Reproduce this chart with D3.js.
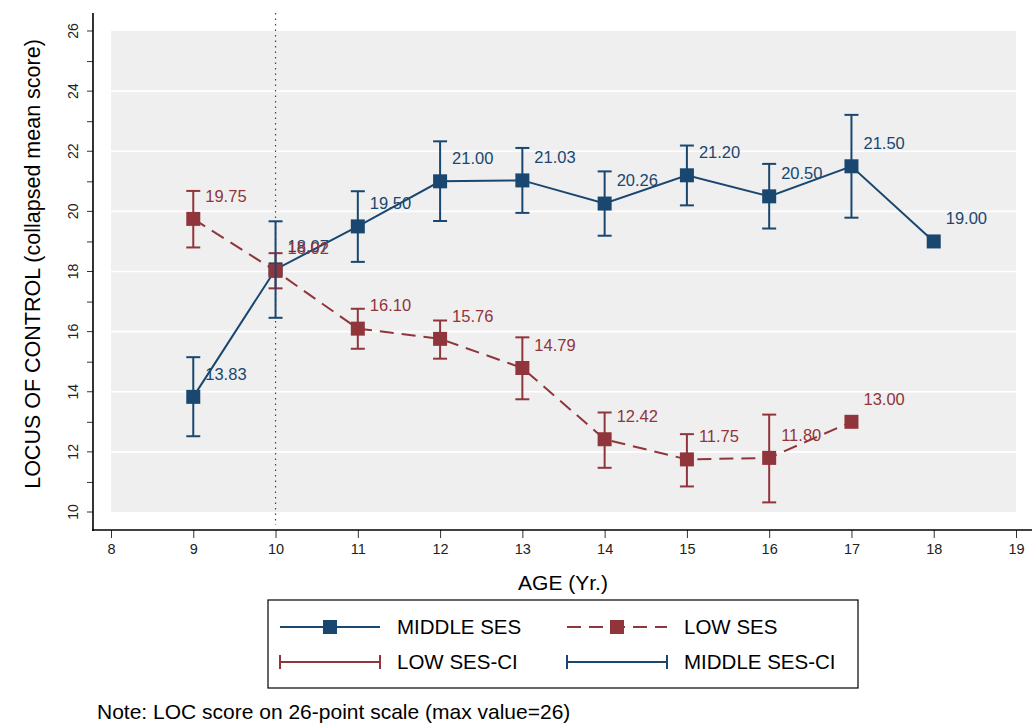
<!DOCTYPE html>
<html>
<head>
<meta charset="utf-8">
<script src="https://cdn.jsdelivr.net/npm/d3@7"></script>
<style>
  body { margin: 0; background: #fff; }
  svg { font-family: Arial, "Liberation Sans", sans-serif; }
</style>
</head>
<body>
<div id="chart"></div>
<script>
// chart values
var middleAges = [9, 10, 11, 12, 13, 14, 15, 16, 17, 18];
var middleSes = [13.83, 18.07, 19.50, 21.00, 21.03, 20.26, 21.20, 20.50, 21.50, 19.00];
var middleCiAges = [9, 10, 11, 12, 13, 14, 15, 16, 17];
var middleCiLow = [12.52, 16.46, 18.32, 19.68, 19.95, 19.19, 20.20, 19.43, 19.79];
var middleCiHigh = [15.15, 19.67, 20.67, 22.33, 22.11, 21.33, 22.19, 21.58, 23.21];

var lowAges = [9, 10, 11, 12, 13, 14, 15, 16, 17];
var lowSes = [19.75, 18.02, 16.10, 15.76, 14.79, 12.42, 11.75, 11.80, 13.00];
var lowCiAges = [9, 10, 11, 12, 13, 14, 15, 16];
var lowCiLow = [18.80, 17.44, 15.43, 15.10, 13.75, 11.47, 10.85, 10.32];
var lowCiHigh = [20.68, 18.61, 16.76, 16.37, 15.81, 13.31, 12.59, 13.24];

var xTicks = [8, 9, 10, 11, 12, 13, 14, 15, 16, 17, 18, 19];
var yTicks = [10, 12, 14, 16, 18, 20, 22, 24, 26];
var yMinorTicks = [11, 13, 15, 17, 19, 21, 23, 25];
var refAge = 10;

var blue = "#1a476f", red = "#90353b";

var svg = d3.select("#chart").append("svg")
    .attr("width", 1032).attr("height", 725);

var x = d3.scaleLinear().domain([8, 19]).range([111, 1016]);
var y = d3.scaleLinear().domain([10, 26]).range([512, 31]);

// plot region
svg.append("rect")
    .attr("x", x(8)).attr("y", y(26))
    .attr("width", x(19) - x(8)).attr("height", y(10) - y(26))
    .attr("fill", "#efefef");

// grid
svg.selectAll(".grid")
    .data(yTicks.filter(function (d) { return d > 10 && d < 26; }))
    .enter().append("line")
    .attr("x1", x(8)).attr("x2", x(19))
    .attr("y1", function (d) { return y(d); })
    .attr("y2", function (d) { return y(d); })
    .attr("stroke", "#fff").attr("stroke-width", 1.6);

// axes
var yAxis = svg.append("g")
    .attr("transform", "translate(93,0)")
    .call(d3.axisLeft(y).tickValues(yTicks).tickSize(6).tickPadding(12)
        .tickFormat(d3.format("d")));
yAxis.select(".domain").remove();
yAxis.selectAll("text")
    .attr("transform", function (d) { return "rotate(-90," + (-20) + "," + y(d) + ")"; })
    .attr("x", -20).attr("y", function (d) { return y(d); })
    .attr("dy", "0.35em")
    .attr("text-anchor", "middle")
    .style("font-size", "14px").style("fill", "#222");
yAxis.selectAll(".tick").attr("transform", null);
yAxis.selectAll(".tick line")
    .attr("y1", function (d) { return y(d); }).attr("y2", function (d) { return y(d); })
    .attr("stroke", "#333");

var yMinor = svg.append("g")
    .attr("transform", "translate(93,0)")
    .call(d3.axisLeft(y).tickValues(yMinorTicks).tickSize(6).tickFormat(""));
yMinor.select(".domain").remove();
yMinor.selectAll("line").attr("stroke", "#333");

svg.append("line")
    .attr("x1", 93).attr("x2", 93).attr("y1", 13).attr("y2", 531)
    .attr("stroke", "#000").attr("stroke-width", 1.6);

var xAxis = svg.append("g")
    .attr("transform", "translate(0,530)")
    .call(d3.axisBottom(x).tickValues(xTicks).tickSize(8).tickPadding(6)
        .tickFormat(d3.format("d")));
xAxis.select(".domain").remove();
xAxis.selectAll("text").style("font-size", "14.5px").style("fill", "#222");
xAxis.selectAll("line").attr("stroke", "#333");

svg.append("line")
    .attr("x1", 92).attr("x2", 1032).attr("y1", 530).attr("y2", 530)
    .attr("stroke", "#000").attr("stroke-width", 1.6);

// reference line at age 10
svg.append("line")
    .attr("x1", x(refAge)).attr("x2", x(refAge))
    .attr("y1", 13).attr("y2", 525)
    .attr("stroke", "#444").attr("stroke-width", 1.2)
    .attr("stroke-dasharray", "1.5,4");

// axis titles
svg.append("text")
    .attr("x", 563).attr("y", 590)
    .attr("text-anchor", "middle")
    .style("font-size", "21px")
    .text("AGE (Yr.)");

svg.append("text")
    .attr("transform", "translate(40,264) rotate(-90)")
    .attr("text-anchor", "middle")
    .style("font-size", "21.5px")
    .text("LOCUS OF CONTROL (collapsed mean score)");

// series
function drawSeries(ages, vals, color, dash) {
    var pts = ages.map(function (a, i) { return [a, vals[i]]; });
    svg.append("path")
        .datum(pts)
        .attr("d", d3.line().x(function (d) { return x(d[0]); }).y(function (d) { return y(d[1]); }))
        .attr("fill", "none").attr("stroke", color).attr("stroke-width", 2)
        .attr("stroke-dasharray", dash);
    svg.selectAll(null).data(pts).enter().append("rect")
        .attr("x", function (d) { return x(d[0]) - 7; })
        .attr("y", function (d) { return y(d[1]) - 7; })
        .attr("width", 14).attr("height", 14)
        .attr("fill", color);
    svg.selectAll(null).data(pts).enter().append("text")
        .attr("x", function (d) { return x(d[0]) + 12; })
        .attr("y", function (d) { return y(d[1]) - 23; })
        .attr("dy", "0.35em")
        .style("font-size", "16.5px").style("fill", color)
        .text(function (d) { return d3.format(".2f")(d[1]); });
}

function drawCi(ages, lo, hi, color) {
    var g = svg.append("g").attr("stroke", color).attr("stroke-width", 2);
    ages.forEach(function (a, i) {
        var cx = x(a);
        g.append("line").attr("x1", cx).attr("x2", cx).attr("y1", y(lo[i])).attr("y2", y(hi[i]));
        g.append("line").attr("x1", cx - 7).attr("x2", cx + 7).attr("y1", y(lo[i])).attr("y2", y(lo[i]));
        g.append("line").attr("x1", cx - 7).attr("x2", cx + 7).attr("y1", y(hi[i])).attr("y2", y(hi[i]));
    });
}

drawSeries(middleAges, middleSes, blue, null);
drawSeries(lowAges, lowSes, red, "14,8");
drawCi(lowCiAges, lowCiLow, lowCiHigh, red);
drawCi(middleCiAges, middleCiLow, middleCiHigh, blue);

// legend
var leg = svg.append("g");
leg.append("rect")
    .attr("x", 268).attr("y", 600).attr("width", 590).attr("height", 88)
    .attr("fill", "#fff").attr("stroke", "#000").attr("stroke-width", 1.2);

var legendItems = [
    { label: "MIDDLE SES", color: blue, kind: "line", dash: null, cx: 280, cy: 627 },
    { label: "LOW SES", color: red, kind: "line", dash: "14,8", cx: 567, cy: 627 },
    { label: "LOW SES-CI", color: red, kind: "ci", cx: 280, cy: 662 },
    { label: "MIDDLE SES-CI", color: blue, kind: "ci", cx: 567, cy: 662 }
];
legendItems.forEach(function (d) {
    leg.append("line")
        .attr("x1", d.cx).attr("x2", d.cx + 100).attr("y1", d.cy).attr("y2", d.cy)
        .attr("stroke", d.color).attr("stroke-width", 2)
        .attr("stroke-dasharray", d.dash || null);
    if (d.kind === "line") {
        leg.append("rect")
            .attr("x", d.cx + 43).attr("y", d.cy - 7).attr("width", 14).attr("height", 14)
            .attr("fill", d.color);
    } else {
        leg.append("line").attr("x1", d.cx).attr("x2", d.cx).attr("y1", d.cy - 7).attr("y2", d.cy + 7)
            .attr("stroke", d.color).attr("stroke-width", 2);
        leg.append("line").attr("x1", d.cx + 100).attr("x2", d.cx + 100).attr("y1", d.cy - 7).attr("y2", d.cy + 7)
            .attr("stroke", d.color).attr("stroke-width", 2);
    }
    leg.append("text")
        .attr("x", d.cx + 117).attr("y", d.cy).attr("dy", "0.35em")
        .style("font-size", "20.5px")
        .text(d.label);
});

svg.append("text")
    .attr("x", 97).attr("y", 719)
    .style("font-size", "21px")
    .text("Note: LOC score on 26-point scale (max value=26)");
</script>
</body>
</html>
